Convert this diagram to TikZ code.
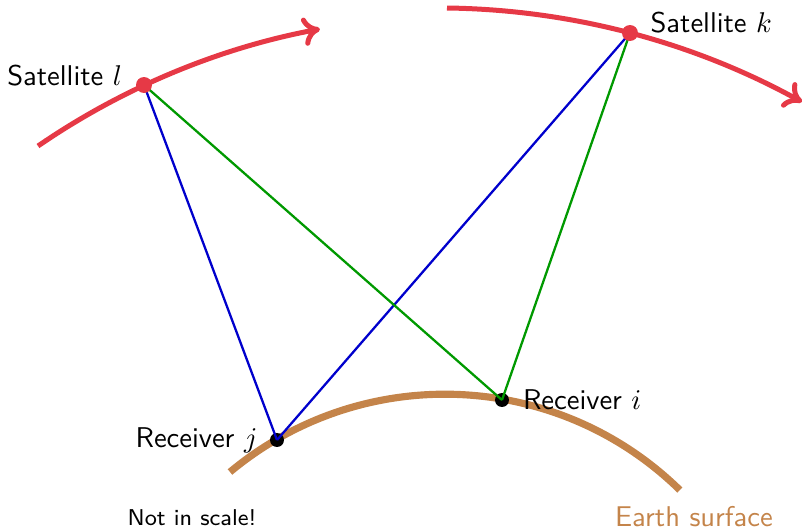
\documentclass[tikz,border=0pt]{standalone}
\usepackage{tikz}
\usepackage{xcolor}
\usetikzlibrary{arrows.meta,positioning,calc}
\definecolor{satred}{HTML}{E63946}
\definecolor{earthbrown}{HTML}{C4844A}
\definecolor{losblue}{HTML}{0000CC}
\definecolor{losgreen}{HTML}{009900}
\pgfdeclarelayer{front}
\pgfsetlayers{main,front}

\begin{document}
\begin{tikzpicture}[x=0.35pt, y=0.35pt,
  sDot/.style  ={circle, fill=satred, inner sep=0pt, minimum size=5.6pt},
  rDot/.style  ={circle, fill=black, inner sep=0pt, minimum size=4.9pt},
  orbit/.style ={satred, line width=1.75pt, -{Computer Modern Rightarrow[length=6pt,width=10pt]}},
  earth/.style ={earthbrown, line width=2.5pt},
  losB/.style  ={losblue, line width=0.8pt},
  losG/.style  ={losgreen, line width=0.8pt},
  lab/.style   ={font=\sffamily, inner sep=0pt},
]
\useasboundingbox (0,0) rectangle (802,532);

% orbits and earth surface
\draw[orbit] (38,386) arc[start angle=124.47, end angle=100.59, radius=737.8];
\draw[orbit] (447,524) arc[start angle=89.25, end angle=61.09, radius=754.8];
\draw[earth] (230,60) arc[start angle=129.8, end angle=45.6, radius=335.8];

% receivers
\node[rDot] (reci) at (502,132) {};
\node[rDot] (recj) at (277,92) {};

% satellites (on top of the lines)
\begin{pgfonlayer}{front}
\node[sDot] (satl) at (144,447) {};
\node[sDot] (satk) at (630,499) {};
\end{pgfonlayer}

% lines of sight
\draw[losB] (satl.center) -- (recj.center);
\draw[losB] (satk.center) -- (recj.center);
\draw[losG] (satl.center) -- (reci.center);
\draw[losG] (satk.center) -- (reci.center);

% labels
\node[lab, anchor=base east] (labl) at ([xshift=-7.5pt]satl.center) {Satellite $l$};
\node[lab, anchor=base west] (labk) at ([xshift=7pt]satk.center) {Satellite $k$};
\node[lab, right=4.5pt of reci] (labi) {Receiver $i$};
\node[lab, left=4pt of recj] (labj) {Receiver $j$};
\node[lab, font=\sffamily\footnotesize] (note) at (192,14) {Not in scale!};
\node[lab, text=earthbrown] (labe) at (694,15) {Earth surface};
\end{tikzpicture}
\end{document}
